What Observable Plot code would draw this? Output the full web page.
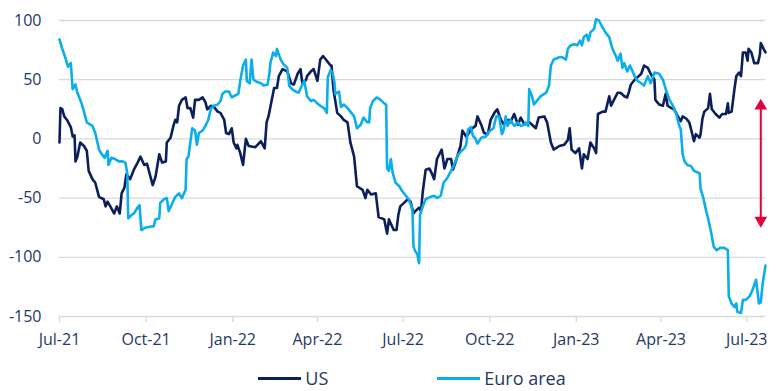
<!DOCTYPE html>
<html><head><meta charset="utf-8">
<script src="https://cdn.jsdelivr.net/npm/d3@7"></script>
<script src="https://cdn.jsdelivr.net/npm/@observablehq/plot@0.6"></script>
<style>
body{margin:0;background:#fff;font-family:"Open Sans",sans-serif;}
#legend{display:flex;justify-content:center;align-items:center;gap:109px;margin-left:59px;width:706px;height:46px;color:#1f3864;font-size:18px;}
.item{display:flex;align-items:center;gap:4px}
.sw{width:43px;height:3px}
</style></head><body>
<div id="chart"></div>
<div id="legend"></div>
<script>
const seriesNames = ["US", "Euro area"];
const seriesColors = ["#0b1f5c", "#0aaeea"];

const usDates = ["2021-07-01","2021-07-02","2021-07-04","2021-07-06","2021-07-09","2021-07-13","2021-07-15","2021-07-17","2021-07-18","2021-07-20","2021-07-23","2021-07-27","2021-07-30","2021-08-01","2021-08-05","2021-08-08","2021-08-12","2021-08-17","2021-08-19","2021-08-21","2021-08-24","2021-08-28","2021-08-31","2021-09-03","2021-09-05","2021-09-08","2021-09-10","2021-09-14","2021-09-18","2021-09-22","2021-09-25","2021-09-29","2021-10-02","2021-10-08","2021-10-11","2021-10-15","2021-10-18","2021-10-22","2021-10-23","2021-10-27","2021-10-30","2021-11-01","2021-11-03","2021-11-05","2021-11-08","2021-11-12","2021-11-14","2021-11-17","2021-11-20","2021-11-22","2021-11-26","2021-11-30","2021-12-03","2021-12-05","2021-12-09","2021-12-12","2021-12-16","2021-12-19","2021-12-23","2021-12-25","2021-12-28","2021-12-31","2022-01-02","2022-01-05","2022-01-06","2022-01-09","2022-01-12","2022-01-15","2022-01-18","2022-01-25","2022-01-31","2022-02-04","2022-02-06","2022-02-08","2022-02-11","2022-02-14","2022-02-17","2022-02-19","2022-02-23","2022-02-28","2022-03-04","2022-03-07","2022-03-11","2022-03-14","2022-03-16","2022-03-20","2022-03-21","2022-03-25","2022-03-28","2022-04-01","2022-04-04","2022-04-07","2022-04-11","2022-04-15","2022-04-16","2022-04-18","2022-04-22","2022-04-26","2022-04-29","2022-05-03","2022-05-06","2022-05-10","2022-05-13","2022-05-19","2022-05-22","2022-05-24","2022-05-28","2022-06-02","2022-06-05","2022-06-11","2022-06-14","2022-06-16","2022-06-21","2022-06-24","2022-06-26","2022-06-28","2022-07-02","2022-07-06","2022-07-09","2022-07-12","2022-07-14","2022-07-18","2022-07-20","2022-07-22","2022-07-25","2022-07-29","2022-08-01","2022-08-03","2022-08-06","2022-08-11","2022-08-14","2022-08-17","2022-08-21","2022-08-23","2022-08-26","2022-08-31","2022-09-02","2022-09-06","2022-09-09","2022-09-11","2022-09-16","2022-09-18","2022-09-22","2022-09-25","2022-09-29","2022-10-02","2022-10-06","2022-10-09","2022-10-13","2022-10-16","2022-10-18","2022-10-22","2022-10-23","2022-10-27","2022-10-31","2022-11-03","2022-11-07","2022-11-12","2022-11-15","2022-11-19","2022-11-22","2022-11-28","2022-12-01","2022-12-05","2022-12-08","2022-12-14","2022-12-19","2022-12-23","2022-12-25","2022-12-27","2022-12-31","2023-01-04","2023-01-07","2023-01-09","2023-01-13","2023-01-16","2023-01-20","2023-01-22","2023-01-24","2023-01-29","2023-02-01","2023-02-05","2023-02-07","2023-02-10","2023-02-14","2023-02-17","2023-02-21","2023-02-24","2023-02-26","2023-02-28","2023-03-04","2023-03-07","2023-03-11","2023-03-14","2023-03-18","2023-03-21","2023-03-25","2023-03-26","2023-03-30","2023-04-03","2023-04-06","2023-04-08","2023-04-12","2023-04-15","2023-04-19","2023-04-22","2023-04-24","2023-04-28","2023-05-01","2023-05-03","2023-05-06","2023-05-08","2023-05-12","2023-05-13","2023-05-15","2023-05-17","2023-05-21","2023-05-23","2023-05-25","2023-05-29","2023-06-02","2023-06-05","2023-06-09","2023-06-11","2023-06-12","2023-06-15","2023-06-18","2023-06-20","2023-06-23","2023-06-25","2023-06-27","2023-06-30","2023-07-02","2023-07-03","2023-07-06","2023-07-09","2023-07-13","2023-07-15","2023-07-16","2023-07-19","2023-07-21"];
const usValues = [-3,26,25,19,16,10,2,3,-19,-15,-3,-6,-10,-27,-34,-37,-49,-51,-57,-53,-57,-63,-57,-63,-46,-41,-30,-34,-26,-20,-15,-22,-21,-39,-32,-13,-20,-19,-3,1,11,16,14,28,33,35,26,26,18,33,33,35,31,25,28,27,23,22,16,5,4,9,-3,-8,-5,-12,-22,0,-6,-7,-2,-8,14,19,31,43,43,53,59,57,47,46,55,59,47,50,53,57,59,49,67,70,66,62,62,42,22,19,16,14,-3,-15,-40,-43,-50,-43,-47,-46,-66,-68,-80,-68,-77,-77,-64,-57,-54,-51,-53,-63,-61,-58,-61,-44,-26,-25,-30,-34,-17,-9,-25,-17,-17,-26,-19,-6,7,2,5,8,11,19,12,5,4,16,22,25,16,12,16,16,14,21,12,18,12,14,12,9,18,19,14,-3,-9,-6,-5,-1,9,-9,-12,-8,-25,-13,-17,-3,-8,-12,21,23,23,36,28,33,39,39,36,35,40,46,50,52,55,62,60,55,50,33,29,28,38,28,26,25,19,15,19,17,14,8,-2,4,1,4,17,23,26,38,25,21,18,21,21,30,22,23,42,53,56,53,73,73,66,76,73,64,64,71,81,76,73];

const euroDates = ["2021-07-01","2021-07-04","2021-07-07","2021-07-10","2021-07-13","2021-07-15","2021-07-18","2021-07-20","2021-07-24","2021-07-27","2021-07-30","2021-08-05","2021-08-08","2021-08-12","2021-08-15","2021-08-18","2021-08-21","2021-08-22","2021-08-25","2021-08-29","2021-09-02","2021-09-06","2021-09-09","2021-09-11","2021-09-12","2021-09-16","2021-09-18","2021-09-22","2021-09-24","2021-09-26","2021-09-30","2021-10-06","2021-10-09","2021-10-11","2021-10-15","2021-10-16","2021-10-20","2021-10-23","2021-10-25","2021-10-29","2021-11-01","2021-11-05","2021-11-08","2021-11-12","2021-11-13","2021-11-15","2021-11-17","2021-11-19","2021-11-22","2021-11-24","2021-11-26","2021-11-30","2021-12-03","2021-12-06","2021-12-09","2021-12-12","2021-12-16","2021-12-19","2021-12-21","2021-12-24","2021-12-28","2021-12-31","2022-01-02","2022-01-07","2022-01-09","2022-01-12","2022-01-15","2022-01-16","2022-01-19","2022-01-21","2022-01-23","2022-01-27","2022-01-31","2022-02-03","2022-02-07","2022-02-09","2022-02-10","2022-02-13","2022-02-16","2022-02-17","2022-02-21","2022-02-24","2022-02-28","2022-03-02","2022-03-05","2022-03-09","2022-03-12","2022-03-16","2022-03-18","2022-03-21","2022-03-25","2022-03-28","2022-04-01","2022-04-04","2022-04-08","2022-04-11","2022-04-12","2022-04-15","2022-04-17","2022-04-19","2022-04-20","2022-04-24","2022-04-26","2022-04-29","2022-05-03","2022-05-06","2022-05-10","2022-05-13","2022-05-17","2022-05-20","2022-05-24","2022-05-26","2022-05-27","2022-05-30","2022-06-03","2022-06-07","2022-06-11","2022-06-13","2022-06-14","2022-06-16","2022-06-18","2022-06-20","2022-06-23","2022-06-27","2022-06-30","2022-07-04","2022-07-07","2022-07-10","2022-07-11","2022-07-12","2022-07-14","2022-07-16","2022-07-18","2022-07-19","2022-07-22","2022-07-25","2022-07-30","2022-08-03","2022-08-06","2022-08-10","2022-08-13","2022-08-17","2022-08-21","2022-08-24","2022-08-28","2022-08-31","2022-09-04","2022-09-06","2022-09-08","2022-09-11","2022-09-13","2022-09-16","2022-09-18","2022-09-22","2022-09-27","2022-09-30","2022-10-05","2022-10-08","2022-10-11","2022-10-14","2022-10-16","2022-10-18","2022-10-20","2022-10-23","2022-10-27","2022-10-31","2022-11-03","2022-11-07","2022-11-08","2022-11-11","2022-11-12","2022-11-15","2022-11-17","2022-11-21","2022-11-24","2022-11-30","2022-12-03","2022-12-05","2022-12-08","2022-12-14","2022-12-17","2022-12-21","2022-12-23","2022-12-26","2022-12-30","2023-01-02","2023-01-05","2023-01-07","2023-01-09","2023-01-12","2023-01-14","2023-01-16","2023-01-20","2023-01-22","2023-01-25","2023-01-29","2023-02-01","2023-02-05","2023-02-08","2023-02-12","2023-02-14","2023-02-17","2023-02-19","2023-02-21","2023-02-24","2023-02-27","2023-03-04","2023-03-07","2023-03-11","2023-03-14","2023-03-18","2023-03-21","2023-03-25","2023-03-30","2023-04-03","2023-04-06","2023-04-10","2023-04-13","2023-04-17","2023-04-20","2023-04-22","2023-04-24","2023-04-26","2023-04-29","2023-05-03","2023-05-06","2023-05-12","2023-05-13","2023-05-16","2023-05-19","2023-05-21","2023-05-24","2023-05-27","2023-05-30","2023-06-03","2023-06-07","2023-06-11","2023-06-12","2023-06-15","2023-06-18","2023-06-20","2023-06-21","2023-06-25","2023-06-27","2023-06-30","2023-07-04","2023-07-07","2023-07-11","2023-07-12","2023-07-14","2023-07-16","2023-07-18","2023-07-21"];
const euroValues = [84,76,69,61,64,42,46,39,31,23,14,11,5,-9,-13,-16,-10,-22,-16,-17,-19,-19,-20,-29,-67,-64,-63,-58,-56,-77,-75,-74,-74,-68,-67,-54,-51,-50,-61,-54,-49,-46,-50,-43,-17,-15,-3,9,7,-5,5,7,11,16,26,28,29,32,38,40,40,35,36,38,49,62,67,49,47,67,50,48,47,45,46,55,64,73,70,76,67,63,60,45,42,40,39,46,49,36,32,33,30,28,26,22,52,58,56,48,38,40,27,29,26,23,19,9,12,18,14,14,26,32,35,33,30,29,-25,-27,-17,-29,-37,-40,-44,-48,-51,-57,-62,-91,-95,-97,-105,-64,-57,-51,-49,-48,-50,-48,-37,-33,-27,-22,-14,-11,-8,-5,8,10,3,0,-4,1,2,6,9,19,19,4,8,19,11,16,11,14,11,12,14,11,42,36,29,33,36,39,45,62,67,69,69,67,76,79,80,79,83,79,86,88,83,90,93,101,100,94,90,86,77,70,66,72,60,64,57,62,53,49,47,45,53,47,56,55,50,42,33,29,22,12,8,-13,-19,-22,-23,-27,-29,-42,-50,-61,-67,-78,-91,-94,-92,-92,-94,-133,-139,-142,-139,-146,-147,-136,-136,-133,-128,-119,-126,-139,-138,-122,-107];

const yTicks = [-150, -100, -50, 0, 50, 100];
const xTicks = ["2021-07-01","2021-10-01","2022-01-01","2022-04-01","2022-07-01","2022-10-01","2023-01-01","2023-04-01","2023-07-01"];
const xDomain = ["2021-07-01", "2023-07-21"];

// annotation: double-headed arrow showing the gap
const arrowDate = "2023-07-16";
const arrowTop = 34;
const arrowBottom = -75;
const arrowColor = "#e4003b";

const us = usDates.map((d, i) => ({date: new Date(d), value: usValues[i]}));
const euro = euroDates.map((d, i) => ({date: new Date(d), value: euroValues[i]}));

const downTriangle = {
  draw(ctx, size) {
    const y = Math.sqrt(size / (3 * Math.sqrt(3)));
    ctx.moveTo(0, 2 * y);
    ctx.lineTo(-Math.sqrt(3) * y, -y);
    ctx.lineTo(Math.sqrt(3) * y, -y);
    ctx.closePath();
  }
};

const chart = Plot.plot({
  width: 782,
  height: 355,
  marginLeft: 59,
  marginRight: 17,
  marginTop: 20,
  marginBottom: 39,
  style: {fontFamily: "'Open Sans', sans-serif", fontSize: "16px", color: "#1f3864", background: "#fff"},
  x: {type: "utc", domain: xDomain.map(d => new Date(d))},
  y: {domain: [-150, 100]},
  marks: [
    Plot.gridY(yTicks.filter(t => t > -150), {stroke: "#d9d9d9", strokeOpacity: 1, strokeWidth: 1.3}),
    Plot.ruleY([-150], {stroke: "#d9d9d9", strokeWidth: 1.3}),
    Plot.axisY(yTicks, {tickSize: 0, tickPadding: 18, tickFormat: d => String(d), label: null}),
    Plot.axisX(xTicks.map(d => new Date(d)), {tickSize: 6, tickPadding: 11, stroke: "#d9d9d9", strokeWidth: 1.3, fill: "#1f3864", tickFormat: d3.utcFormat("%b-%y"), label: null}),
    Plot.line(us, {x: "date", y: "value", stroke: seriesColors[0], strokeWidth: 2.6, strokeLinejoin: "round"}),
    Plot.line(euro, {x: "date", y: "value", stroke: seriesColors[1], strokeWidth: 2.6, strokeLinejoin: "round"}),
    Plot.ruleX([new Date(arrowDate)], {y1: arrowTop, y2: arrowBottom, stroke: arrowColor, strokeWidth: 2, insetTop: 8, insetBottom: 8}),
    Plot.dot([new Date(arrowDate)], {x: d => d, y: () => arrowTop, symbol: "triangle", r: 4.7, fill: arrowColor, stroke: "none", dy: 7.3}),
    Plot.dot([new Date(arrowDate)], {x: d => d, y: () => arrowBottom, symbol: downTriangle, r: 4.7, fill: arrowColor, stroke: "none", dy: -7.3})
  ]
});
document.getElementById("chart").appendChild(chart);

const legend = document.getElementById("legend");
seriesNames.forEach((name, i) => {
  const item = document.createElement("div");
  item.className = "item";
  const sw = document.createElement("div");
  sw.className = "sw";
  sw.style.background = seriesColors[i];
  const label = document.createElement("span");
  label.textContent = name;
  item.appendChild(sw);
  item.appendChild(label);
  legend.appendChild(item);
});
</script>
</body></html>
